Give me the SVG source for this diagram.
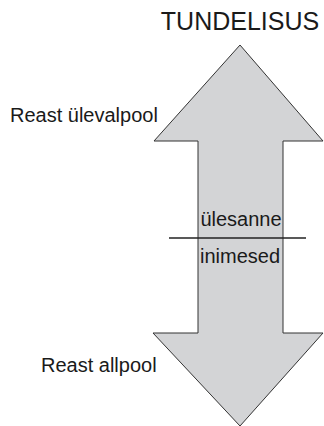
<svg xmlns="http://www.w3.org/2000/svg" width="324" height="426" viewBox="0 0 324 426">
<style>
text{font-family:"Liberation Sans",Arial,sans-serif;fill:#1a1a1a}
.s{font-size:20px}
</style>
<rect width="324" height="426" fill="#fff"/>
<g id="arrow">
<polygon points="240,45 323,141 283,141 283,333 323,333 240,426 153,333 198,333 198,141 154,141" fill="#d3d4d6" stroke="#333" stroke-width="1"/>
</g>
<g id="connectors">
<line x1="169" y1="238" x2="306" y2="238" stroke="#222" stroke-width="1.5"/>
</g>
<g id="title"><text x="240" y="30" font-size="25" text-anchor="middle">TUNDELISUS</text></g>
<g id="top-label"><text class="s" x="10" y="122">Reast ülevalpool</text></g>
<g id="bottom-label"><text class="s" x="41" y="372">Reast allpool</text></g>
<g id="task"><text class="s" x="241" y="226" text-anchor="middle">ülesanne</text></g>
<g id="people"><text class="s" x="240" y="263" text-anchor="middle">inimesed</text></g>
</svg>
